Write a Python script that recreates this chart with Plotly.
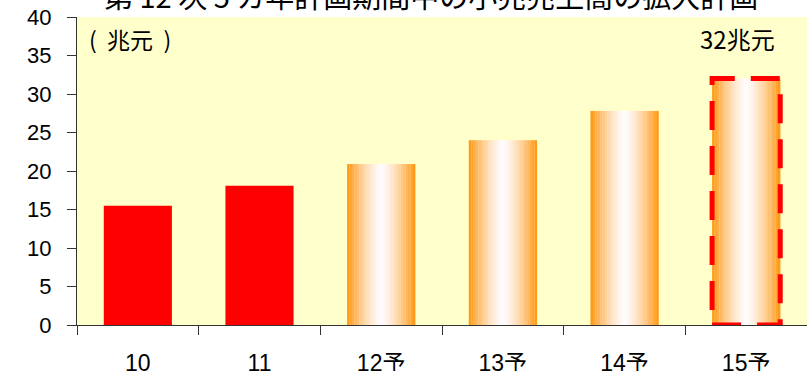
import plotly.graph_objects as go

categories = ["10", "11", "12予", "13予", "14予", "15予"]
values = [15.5, 18.1, 20.9, 24.0, 27.8, 32.0]
solid_idx = [0, 1]
grad_idx = [2, 3, 4, 5]
highlight_idx = 5
title_text = "第 12 次 5 カ年計画期間中の小売売上高の拡大計画"
unit_label = "(  兆元  )"
highlight_label = "32兆元"

BAR_W = 0.56
N_STRIPS = 28
ORANGE = (255, 150, 15)
WHITE = (255, 251, 255)
FONT = "Arial, 'Liberation Sans', 'Noto Sans CJK JP', sans-serif"
CJK = "'Noto Sans CJK JP', sans-serif"

fig = go.Figure()

# solid red bars
fig.add_trace(go.Bar(
    x=[categories[i] for i in solid_idx],
    y=[values[i] for i in solid_idx],
    width=BAR_W, marker=dict(color="#FF0000", line=dict(width=0)),
    hoverinfo="skip", showlegend=False))

# gradient bars made of thin vertical strips
sw = BAR_W / N_STRIPS
for k in range(N_STRIPS):
    t = ((k + 0.5) / N_STRIPS) * 2 - 1  # -1..1
    f = abs(t) ** 1.4
    c = tuple(round(WHITE[j] + (ORANGE[j] - WHITE[j]) * f) for j in range(3))
    fig.add_trace(go.Bar(
        x=[categories[i] for i in grad_idx],
        y=[values[i] for i in grad_idx],
        width=sw * 1.08, offset=-BAR_W / 2 + k * sw,
        marker=dict(color="rgb(%d,%d,%d)" % c, line=dict(width=0)),
        hoverinfo="skip", showlegend=False))

# dashed red highlight rectangle around last bar
fig.add_shape(type="rect", xref="x", yref="y",
              x0=highlight_idx - BAR_W / 2, x1=highlight_idx + BAR_W / 2,
              y0=0, y1=values[highlight_idx],
              line=dict(color="#FF0000", width=5, dash="29px,16px"),
              fillcolor="rgba(0,0,0,0)", layer="above")

fig.add_annotation(text=title_text, xref="paper", yref="paper",
                   x=0.485, y=1.07, showarrow=False,
                   font=dict(family=CJK, size=29, color="#000000"),
                   xanchor="center", yanchor="middle")
fig.add_annotation(text=unit_label, xref="paper", yref="paper",
                   x=0.014, y=0.93, showarrow=False,
                   font=dict(family=CJK, size=23, color="#000000"),
                   xanchor="left", yanchor="middle")
fig.add_annotation(text=highlight_label, xref="x", yref="paper",
                   x=highlight_idx - 0.07, y=0.93, showarrow=False,
                   font=dict(family=CJK, size=24, color="#000000"),
                   xanchor="center", yanchor="middle")

fig.update_layout(
    width=807, height=371,
    margin=dict(l=77, r=0, t=17, b=46, autoexpand=False),
    paper_bgcolor="#FFFFFF", plot_bgcolor="#FFFFCC",
    barmode="overlay", bargap=0.44,
    font=dict(family=FONT, size=22, color="#000000"),
    xaxis=dict(type="category", categoryorder="array", categoryarray=categories,
               tickson="boundaries", ticks="outside", ticklen=9, tickwidth=1,
               tickcolor="#333333", showline=True, linecolor="#333333", linewidth=1,
               showgrid=False, zeroline=False, range=[-0.5, 5.5],
               ticklabelstandoff=17, automargin=False,
               tickfont=dict(family=FONT, size=23)),
    yaxis=dict(range=[0, 40], dtick=5, ticks="outside", ticklen=9, tickwidth=1,
               tickcolor="#333333", showline=True, linecolor="#333333", linewidth=1,
               showgrid=False, zeroline=False, ticklabelstandoff=11, automargin=False,
               tickfont=dict(family=FONT, size=22)),
)

fig.write_html("out.html")
